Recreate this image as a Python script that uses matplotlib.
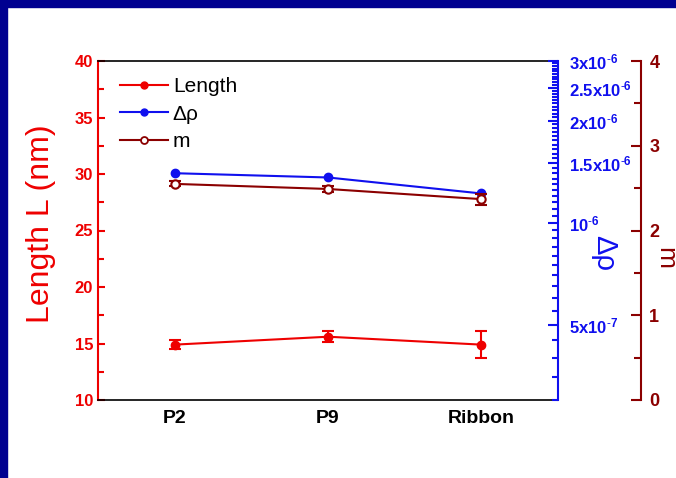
import matplotlib
matplotlib.use("Agg")
import matplotlib.pyplot as plt
import matplotlib.ticker as mticker
from matplotlib.patches import Rectangle
from matplotlib.lines import Line2D
import numpy as np

plt.rcParams['font.family'] = ['Liberation Sans', 'DejaVu Sans']
plt.rcParams['mathtext.fontset'] = 'custom'
plt.rcParams['mathtext.rm'] = 'Liberation Sans'
plt.rcParams['mathtext.bf'] = 'Liberation Sans:bold'
plt.rcParams['mathtext.it'] = 'Liberation Sans:italic'

categories = ["P2", "P9", "Ribbon"]
length_vals = [14.9, 15.6, 14.9]
length_err = [0.4, 0.5, 1.2]
drho_vals = [1.40e-6, 1.36e-6, 1.22e-6]
m_vals = [2.55, 2.49, 2.37]
m_err = [0.03, 0.03, 0.065]

drho_ticks = [5e-7, 1e-6, 1.5e-6, 2e-6, 2.5e-6, 3e-6]
drho_ticklabels = [r"$\mathbf{5x10^{\text{-}7}}$", r"$\mathbf{10^{\text{-}6}}$", r"$\mathbf{1.5x10^{\text{-}6}}$",
                   r"$\mathbf{2x10^{\text{-}6}}$", r"$\mathbf{2.5x10^{\text{-}6}}$", r"$\mathbf{3x10^{\text{-}6}}$"]

RED = '#EE0000'
BLUE = '#1010EE'
DRED = '#8B0000'

fig = plt.figure(figsize=(6.76, 4.78), dpi=100)
fig.patch.set_facecolor('white')
fig.patches.append(Rectangle((0, 0), 7/676, 1, transform=fig.transFigure, color='#000090', zorder=0))
fig.patches.append(Rectangle((0, 1-7/478), 1, 7/478, transform=fig.transFigure, color='#000090', zorder=0))

ax = fig.add_axes([98/676, 1-400/478, 460/676, 339/478])
x = np.arange(len(categories))

ax.errorbar(x, length_vals, yerr=length_err, color=RED, marker='o', markersize=6,
            lw=1.5, capsize=4, capthick=1.5, elinewidth=1.5, zorder=3)
ax.set_xlim(-0.5, 2.5)
ax.set_ylim(10, 40)
ax.set_xticks(x)
ax.set_xticklabels(categories, fontsize=14, fontweight='bold')
ax.tick_params(axis='x', length=0, pad=7)
ax.yaxis.set_major_locator(mticker.MultipleLocator(5))
ax.yaxis.set_minor_locator(mticker.MultipleLocator(2.5))
ax.tick_params(axis='y', which='both', direction='in', colors=RED, labelsize=12, width=1.5)
ax.tick_params(axis='y', which='major', length=5)
ax.tick_params(axis='y', which='minor', length=4)
for lab in ax.get_yticklabels():
    lab.set_fontweight('bold')
ax.set_ylabel('Length L (nm)', color=RED, fontsize=23, va='center')
ax.yaxis.set_label_coords(-0.124, 0.52)
ax.spines['left'].set_color(RED)
ax.spines['left'].set_linewidth(1.5)
ax.spines['right'].set_visible(False)
ax.spines['top'].set_linewidth(1.2)
ax.spines['bottom'].set_linewidth(1.2)

ax2 = ax.twinx()
ax2.set_yscale('log')
ax2.plot(x, drho_vals, color=BLUE, marker='o', markersize=6, lw=1.5, zorder=3)
ax2.set_ylim(3e-7, 3e-6)
ax2.yaxis.set_major_locator(mticker.FixedLocator(drho_ticks))
ax2.yaxis.set_major_formatter(mticker.FixedFormatter(drho_ticklabels))
ax2.yaxis.set_minor_locator(mticker.FixedLocator(np.arange(3e-7, 3.01e-6, 5e-8)))
ax2.yaxis.set_minor_formatter(mticker.NullFormatter())
ax2.tick_params(axis='y', which='both', direction='in', colors=BLUE, labelsize=12, width=1.5, pad=8)
ax2.tick_params(axis='y', which='major', length=7)
ax2.tick_params(axis='y', which='minor', length=4)
ax2.set_ylabel('Δρ', color=BLUE, fontsize=21, rotation=270, va='center')
ax2.yaxis.set_label_coords(1.1, 0.435)
ax2.spines['right'].set_color(BLUE)
ax2.spines['right'].set_linewidth(1.5)
for s in ['left', 'top', 'bottom']:
    ax2.spines[s].set_visible(False)

ax3 = ax.twinx()
ax3.spines['right'].set_position(('axes', (641-98)/460))
ax3.errorbar(x, m_vals, yerr=m_err, color=DRED, marker='o', markersize=6, mfc='white', mew=1.5,
             lw=1.5, capsize=4, capthick=1.5, elinewidth=1.5, zorder=3)
ax3.set_ylim(0, 4)
ax3.yaxis.set_major_locator(mticker.MultipleLocator(1))
ax3.yaxis.set_minor_locator(mticker.MultipleLocator(0.5))
ax3.tick_params(axis='y', which='both', direction='in', colors=DRED, labelsize=13, width=1.5, pad=6)
ax3.tick_params(axis='y', which='major', length=7)
ax3.tick_params(axis='y', which='minor', length=5)
for lab in ax3.get_yticklabels():
    lab.set_fontweight('bold')
ax3.set_ylabel('m', color=DRED, fontsize=19, rotation=270, va='center')
ax3.yaxis.set_label_coords(1.232, 0.42)
ax3.spines['right'].set_color(DRED)
ax3.spines['right'].set_linewidth(1.5)
for s in ['left', 'top', 'bottom']:
    ax3.spines[s].set_visible(False)

handles = [
    Line2D([], [], color=RED, marker='o', markersize=5, lw=1.5),
    Line2D([], [], color=BLUE, marker='o', markersize=5, lw=1.5),
    Line2D([], [], color=DRED, marker='o', markersize=5, mfc='white', mew=1.3, lw=1.5),
]
labels = ['Length', 'Δρ', 'm']
leg = ax.legend(handles, labels, loc='upper left', frameon=False, fontsize=15,
                handlelength=2.3, handletextpad=0.25, labelspacing=0.42,
                bbox_to_anchor=(0.02, 0.99), borderaxespad=0.2)

fig.savefig('out.png', dpi=100, facecolor='white')
